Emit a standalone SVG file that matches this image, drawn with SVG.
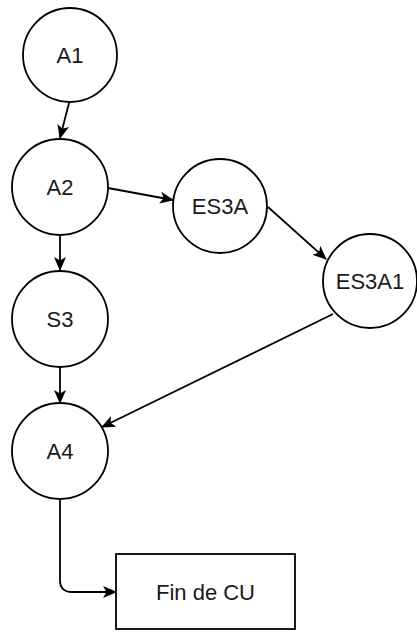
<svg xmlns="http://www.w3.org/2000/svg" width="417" height="635" viewBox="0 0 417 635">
<style>
.n{fill:#fff;stroke:#000;stroke-width:1.8}
.t{font-family:"Liberation Sans",Arial,sans-serif;font-size:22px;fill:#1a1a1a;text-anchor:middle;dominant-baseline:central}
.c{fill:none;stroke:#000;stroke-width:1.8}
</style>
<defs>
<marker id="ah" viewBox="0 0 14 14" refX="13" refY="7" markerWidth="14" markerHeight="14" markerUnits="userSpaceOnUse" orient="auto">
<path d="M0,1 L14,7 L0,13 L3.5,7 Z" fill="#000"/>
</marker>
</defs>
<g id="connectors">
<path class="c" d="M69,103 L60,138" marker-end="url(#ah)"/>
<path class="c" d="M108,188 L173,200" marker-end="url(#ah)"/>
<path class="c" d="M60,235 L60,270" marker-end="url(#ah)"/>
<path class="c" d="M268,207 L326,259" marker-end="url(#ah)"/>
<path class="c" d="M60,367 L60,403" marker-end="url(#ah)"/>
<path class="c" d="M333,314 L102,427" marker-end="url(#ah)"/>
<path class="c" d="M60,499 L60,580 Q60,592 72,592 L116,592" marker-end="url(#ah)"/>
</g>
<g id="A1"><circle class="n" cx="70" cy="55" r="47"/><text class="t" x="70" y="55">A1</text></g>
<g id="A2"><circle class="n" cx="60" cy="187" r="48"/><text class="t" x="60" y="187">A2</text></g>
<g id="S3"><circle class="n" cx="60" cy="319" r="48"/><text class="t" x="60" y="319">S3</text></g>
<g id="A4"><circle class="n" cx="60" cy="451" r="48"/><text class="t" x="60" y="451">A4</text></g>
<g id="ES3A"><circle class="n" cx="220" cy="206" r="47"/><text class="t" x="220" y="206">ES3A</text></g>
<g id="ES3A1"><circle class="n" cx="370" cy="281" r="47"/><text class="t" x="370" y="281">ES3A1</text></g>
<g id="FinDeCU"><rect class="n" x="116" y="554" width="179" height="75"/><text class="t" x="205.5" y="592">Fin de CU</text></g>
</svg>
